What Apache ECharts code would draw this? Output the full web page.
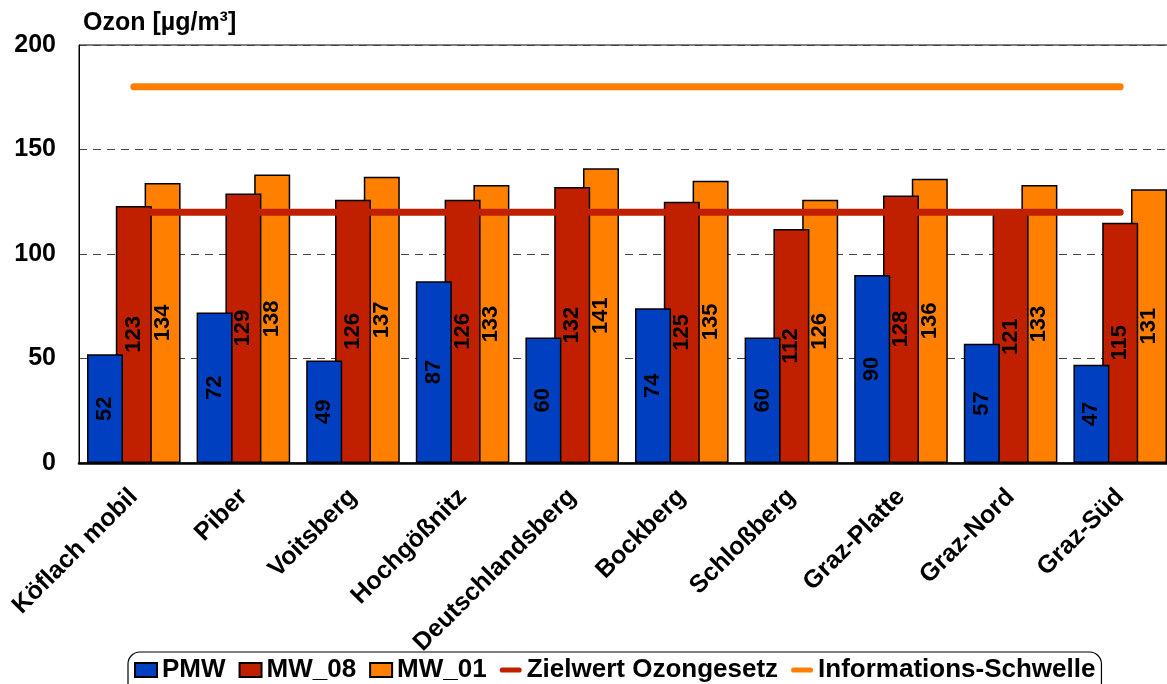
<!DOCTYPE html>
<html>
<head>
<meta charset="utf-8">
<script src="https://cdn.jsdelivr.net/npm/echarts@6/dist/echarts.min.js"></script>
<style>
html,body{margin:0;padding:0;background:#fff;}
#c{width:1167px;height:684px;}
</style>
</head>
<body>
<div id="c"></div>
<script>
const categories = ['Köflach mobil','Piber','Voitsberg','Hochgößnitz','Deutschlandsberg','Bockberg','Schloßberg','Graz-Platte','Graz-Nord','Graz-Süd'];
const pmw  = [52,72,49,87,60,74,60,90,57,47];
const mw08 = [123,129,126,126,132,125,112,128,121,115];
const mw01 = [134,138,137,133,141,135,126,136,133,131];
const zielwert = [120,120,120,120,120,120,120,120,120,120];
const infoSchwelle = [180,180,180,180,180,180,180,180,180,180];
const yTicks = [0,50,100,150,200];

const FONT = 'Liberation Sans, Arial, sans-serif';
const LINE_ICON = 'path://M3.5,0 H26.5 A3.5,3.5 0 0 1 26.5,7 H3.5 A3.5,3.5 0 0 1 3.5,0 Z';
const chart = echarts.init(document.getElementById('c'), null, {renderer:'canvas'});

function barSeries(name, data, color, z){
  return {
    name, type:'bar', data, z,
    barWidth: 36,
    barGap: '-20%',
    itemStyle:{color, borderColor:'#000', borderWidth:1.5},
    label:{show:true, position:'inside', rotate:90, color:'#000',
      fontFamily:FONT, fontWeight:'bold', fontSize:22},
    emphasis:{disabled:true}
  };
}
function lineSeries(name, data, color){
  return {
    name, type:'line', data, symbol:'none', z:10,
    lineStyle:{color, width:7, cap:'round'},
    itemStyle:{color},
    emphasis:{disabled:true}
  };
}

chart.setOption({
  animation:false,
  backgroundColor:'#fff',
  title:{text:'Ozon [µg/m³]', left:78, top:6,
    textStyle:{fontFamily:FONT, fontWeight:'bold', fontSize:25, color:'#000'}},
  grid:{left:79, width:1096, top:45, height:418, show:true, borderColor:'#000', borderWidth:1,
    containLabel:false, outerBoundsMode:'none'},
  legend:{
    top:652, left:128,
    borderColor:'#000', borderWidth:1.2, borderRadius:12,
    padding:[5,6,12,6],
    itemGap:13, itemWidth:22, itemHeight:14,
    textStyle:{fontFamily:FONT, fontWeight:'bold', fontSize:26, color:'#000'},
    data:[
      {name:'PMW', icon:'rect'},
      {name:'MW_08', icon:'rect'},
      {name:'MW_01', icon:'rect'},
      {name:'Zielwert Ozongesetz', icon:LINE_ICON},
      {name:'Informations-Schwelle', icon:LINE_ICON}
    ]
  },
  xAxis:{
    type:'category', data:categories,
    axisLine:{show:true, lineStyle:{color:'#000', width:2.5}},
    axisTick:{show:false},
    axisLabel:{rotate:45, margin:30, color:'#000', interval:0,
      fontFamily:FONT, fontWeight:'bold', fontSize:25}
  },
  yAxis:{
    type:'value', min:0, max:200, interval:50,
    axisLine:{show:true, lineStyle:{color:'#000', width:1}},
    axisTick:{show:false},
    axisLabel:{margin:23, color:'#000', fontFamily:FONT, fontWeight:'bold', fontSize:25,
      formatter: v => yTicks.includes(v) ? String(v) : ''},
    splitLine:{show:true, lineStyle:{color:'#444', type:[8,6], width:1}}
  },
  series:[
    barSeries('PMW', pmw, '#0040C0', 4),
    barSeries('MW_08', mw08, '#C02000', 3),
    barSeries('MW_01', mw01, '#FF8000', 2),
    lineSeries('Zielwert Ozongesetz', zielwert, '#C02000'),
    lineSeries('Informations-Schwelle', infoSchwelle, '#FF8000')
  ]
});
</script>
</body>
</html>
